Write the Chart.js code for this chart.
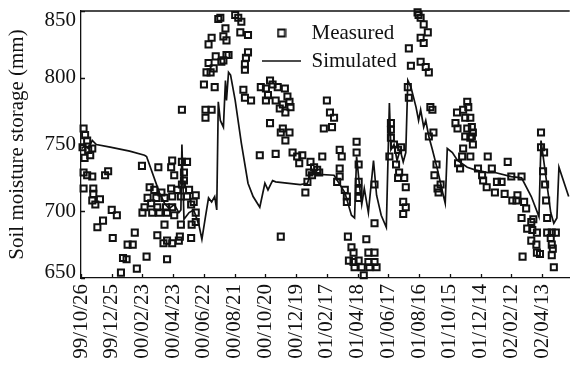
<!DOCTYPE html>
<html>
<head>
<meta charset="utf-8">
<script src="https://cdn.jsdelivr.net/npm/chart.js@4.4.1/dist/chart.umd.min.js"></script>
<style>
  html, body { margin: 0; padding: 0; background: #fff; }
  #wrap { width: 576px; height: 367px; }
</style>
</head>
<body>
<div id="wrap"><canvas id="soil-chart" width="576" height="367"></canvas></div>
<script>
// x axis: days since 99/10/26, one labelled tick every 60 days
const tickLabels = ['99/10/26', '99/12/25', '00/02/23', '00/04/23', '00/06/22', '00/08/21',
  '00/10/20', '00/12/19', '01/02/17', '01/04/18', '01/06/17', '01/08/16',
  '01/10/15', '01/12/14', '02/02/12', '02/04/13'];
const tickDays = [0, 60, 120, 180, 240, 300, 360, 420, 480, 540, 600, 660, 720, 780, 840, 900];
const yTicks = [650, 700, 750, 800, 850];

// measured soil moisture storage (mm)
const measDays = [
  5, 8, 12, 3, 14, 22, 18, 7, 5, 12, 22, 5, 24, 24, 22, 28, 37, 47, 53, 60, 70, 43, 32, 62, 105, 91, 101, 82, 89, 78, 109, 128, 119, 151,
  178, 176, 197, 207, 182, 201, 201, 134, 143, 157, 176, 188, 197, 211, 224, 130, 147, 163, 178, 195, 207, 124, 137, 149, 166, 178, 215, 220, 120, 139, 153, 168, 182, 224, 163, 195, 216, 224, 149, 161, 168, 178, 191, 193, 168, 215, 197,
  268, 272, 282, 278, 284, 255, 249, 263, 274, 284, 249, 259, 245, 253, 240, 261, 243, 255, 243, 301, 307, 313, 311, 326, 278, 288, 326, 322, 320, 320, 317, 320, 332,
  369, 351, 361, 374, 384, 398, 365, 361, 380, 403, 407, 394, 409, 388, 399, 369, 394, 407, 390, 399, 349, 380, 413, 422, 432, 426, 448, 455, 461, 446, 451, 465, 442, 438, 471, 390,
  480, 486, 494, 474, 490, 505, 509, 505, 505, 500, 515, 519, 519, 538, 538, 542, 542, 542, 542, 573, 573,
  521, 528, 532, 523, 532, 542, 548, 534, 552, 557, 561, 573, 561, 573, 563, 577,
  605, 605, 605, 602, 611, 619, 625, 615, 621, 619, 631, 634, 629, 634, 629, 657, 659, 663, 669, 677, 663, 669, 640, 644, 663, 673, 679, 638, 640, 682, 686, 688, 679, 694, 690, 702, 696, 698,
  734, 754, 756, 746, 760, 750, 731, 763, 735, 754, 765, 750, 763, 760, 765, 746, 744, 760, 736, 740, 794, 775, 783, 785, 792, 802, 812, 821, 808, 827, 833,
  840, 860, 842, 850, 852, 865, 869, 860, 879, 883, 871, 881, 890, 879, 889, 890, 896, 862,
  898, 898, 904, 902, 906, 908, 910, 910, 919, 927, 917, 919, 921, 919, 923
];
const measValues = [
  762, 757, 753, 748, 746, 747, 742, 740, 729, 727, 726, 717, 717, 713, 708, 705, 709, 727, 730, 701, 697, 693, 688, 680, 684, 675, 675, 665, 664, 654, 657, 666, 734, 733,
  738, 733, 737, 737, 727, 729, 723, 718, 716, 714, 717, 716, 720, 716, 712, 710, 710, 710, 711, 711, 711, 703, 706, 703, 703, 703, 705, 707, 699, 699, 699, 699, 697, 699, 690, 690, 690, 692, 682, 676, 678, 676, 678, 681, 664, 680, 776,
  844, 845, 837, 831, 828, 830, 825, 816, 812, 817, 811, 807, 804, 804, 795, 793, 776, 776, 770, 847, 845, 842, 834, 832, 813, 817, 819, 815, 810, 806, 791, 785, 783,
  798, 793, 792, 795, 793, 792, 787, 783, 783, 786, 782, 780, 778, 777, 774, 766, 762, 759, 759, 753, 742, 743, 744, 741, 742, 736, 737, 733, 731, 729, 727, 729, 722, 714, 741, 681,
  783, 774, 770, 762, 763, 746, 741, 732, 726, 722, 716, 711, 707, 752, 744, 735, 722, 716, 710, 720, 691,
  681, 673, 669, 663, 662, 663, 658, 658, 652, 679, 669, 669, 662, 662, 658, 658,
  766, 761, 755, 741, 750, 746, 748, 735, 729, 725, 725, 718, 707, 703, 698, 849, 847, 845, 840, 834, 830, 826, 822, 809, 812, 808, 804, 793, 785, 778, 776, 759, 756, 735, 727, 720, 717, 714,
  774, 782, 778, 776, 770, 770, 766, 763, 762, 762, 759, 756, 756, 755, 750, 747, 741, 741, 736, 732, 741, 732, 727, 723, 718, 732, 722, 722, 714, 713, 737,
  726, 726, 708, 708, 712, 707, 702, 695, 692, 694, 687, 686, 684, 678, 675, 669, 668, 666,
  759, 748, 744, 730, 720, 708, 695, 684, 684, 684, 680, 675, 672, 667, 658
];

// simulated storage (mm)
const simDays = [
  1, 8, 14, 22, 30, 57, 95, 124, 128, 153, 163, 172, 182, 191, 195, 197, 201, 211, 220, 230,
  236, 243, 249, 255, 261, 265, 268, 272, 278, 282, 284, 288, 292, 301, 313, 326, 336, 349, 359, 365,
  370, 374, 380, 428, 442, 448, 494, 515, 528, 534, 538, 544, 548, 553, 561, 571, 577, 586, 596, 602,
  605, 611, 617, 623, 629, 634, 638, 644, 654, 659, 663, 669, 673, 679, 686, 696, 706, 711, 715, 725,
  735, 754, 769, 794, 808, 840, 860, 879, 894, 898, 917, 923, 929, 933, 952
];
const simValues = [
  747, 749, 747, 753, 750, 748, 745, 742, 741, 714, 706, 702, 705, 699, 701, 750, 694, 699, 701, 690,
  679, 696, 710, 707, 711, 701, 782, 768, 763, 798, 783, 804, 802, 783, 751, 721, 711, 703, 721, 716,
  720, 723, 722, 720, 721, 728, 727, 714, 697, 695, 741, 718, 705, 717, 699, 738, 712, 697, 688, 781,
  746, 750, 738, 746, 737, 744, 798, 793, 778, 768, 776, 763, 768, 756, 746, 731, 714, 706, 747, 744,
  738, 733, 731, 729, 729, 726, 725, 711, 696, 753, 699, 691, 695, 733, 711
];

const ink = '#111';
const serif = 'Liberation Serif';
Chart.defaults.font.family = serif;
Chart.defaults.color = ink;

// hollow square used as the legend symbol of the measured points
const squareIcon = document.createElement('canvas');
squareIcon.width = 10;
squareIcon.height = 10;
(function () {
  const c = squareIcon.getContext('2d');
  c.lineWidth = 2;
  c.strokeStyle = ink;
  c.strokeRect(1.5, 1.5, 7, 7);
})();

// top border, inward tick marks, legend inside the plot,
// end labels of the y axis pulled inside the frame like the original
const framePlugin = {
  id: 'frame',
  afterLayout(chart) {
    const lg = chart.legend;
    lg.left = 255;
    lg.top = 15.5;
  },
  beforeDraw(chart) {
    const items = chart.scales.y.getLabelItems(chart.chartArea);
    const first = items[0].options.translation;
    const last = items[items.length - 1].options.translation;
    if (!items._nudged) {
      first[1] -= 6;
      last[1] += 9;
      items._nudged = true;
    }
  },
  afterDraw(chart) {
    const { ctx, chartArea: a, scales: { x, y } } = chart;
    ctx.save();
    ctx.strokeStyle = ink;
    ctx.lineWidth = 1.3;
    ctx.beginPath();
    ctx.moveTo(a.left, a.top);
    ctx.lineTo(a.right, a.top);
    x.ticks.forEach((t) => {
      const px = Math.round(x.getPixelForValue(t.value)) + 0.5;
      ctx.moveTo(px, a.bottom);
      ctx.lineTo(px, a.bottom - 4);
    });
    y.ticks.forEach((t) => {
      const py = Math.round(y.getPixelForValue(t.value)) + 0.5;
      ctx.moveTo(a.left, py);
      ctx.lineTo(a.left + 4, py);
    });
    ctx.stroke();
    ctx.restore();
  }
};

const ctx = document.getElementById('soil-chart').getContext('2d');
new Chart(ctx, {
  type: 'line',
  data: {
    datasets: [
      {
        label: 'Measured',
        data: measDays.map((d, i) => ({ x: d, y: measValues[i] })),
        showLine: false,
        pointStyle: 'rect',
        pointRadius: 4.3,
        pointBorderWidth: 2,
        pointBorderColor: ink,
        pointBackgroundColor: 'rgba(0,0,0,0)',
        borderColor: ink,
        clip: false,
      },
      {
        label: 'Simulated',
        data: simDays.map((d, i) => ({ x: d, y: simValues[i] })),
        borderColor: ink,
        borderWidth: 1.7,
        pointRadius: 0,
        pointStyle: 'line',
        tension: 0,
        fill: false,
        clip: false,
      },
    ],
  },
  options: {
    responsive: false,
    animation: false,
    events: [],
    layout: { padding: { top: 11, right: 0, bottom: 0, left: 0 } },
    plugins: {
      tooltip: { enabled: false },
      legend: {
        position: 'chartArea',
        align: 'start',
        labels: {
          usePointStyle: true,
          pointStyleWidth: 39,
          padding: 7,
          color: ink,
          font: { family: serif, size: 21 },
          generateLabels(chart) {
            const items = Chart.defaults.plugins.legend.labels.generateLabels(chart);
            items[0].pointStyle = squareIcon;
            return items;
          },
        },
      },
    },
    scales: {
      x: {
        type: 'linear',
        min: 0,
        max: 954,
        afterBuildTicks(scale) {
          scale.ticks = tickDays.map((v) => ({ value: v }));
        },
        afterFit(scale) {
          scale.height = 89;
          scale.paddingLeft = 0;
          scale.paddingRight = 0;
        },
        grid: { display: false, drawTicks: false },
        border: { display: true, color: ink, width: 1.3 },
        ticks: {
          autoSkip: false,
          maxRotation: 90,
          minRotation: 90,
          padding: 6,
          color: ink,
          font: { family: serif, size: 21 },
          callback: (v, i) => tickLabels[i],
        },
      },
      y: {
        min: 650,
        max: 850,
        afterBuildTicks(scale) {
          scale.ticks = yTicks.map((v) => ({ value: v }));
        },
        afterFit(scale) {
          scale.width = 81;
          scale.paddingTop = 0;
          scale.paddingBottom = 0;
        },
        grid: { display: false, drawTicks: false },
        border: { display: true, color: ink, width: 1.3 },
        ticks: { padding: 5, color: ink, font: { family: serif, size: 21 } },
        title: {
          display: true,
          text: 'Soil moisture storage (mm)',
          color: ink,
          font: { family: serif, size: 21 },
          padding: { top: 5, bottom: 0 },
        },
      },
    },
  },
  plugins: [framePlugin],
});
</script>
</body>
</html>
